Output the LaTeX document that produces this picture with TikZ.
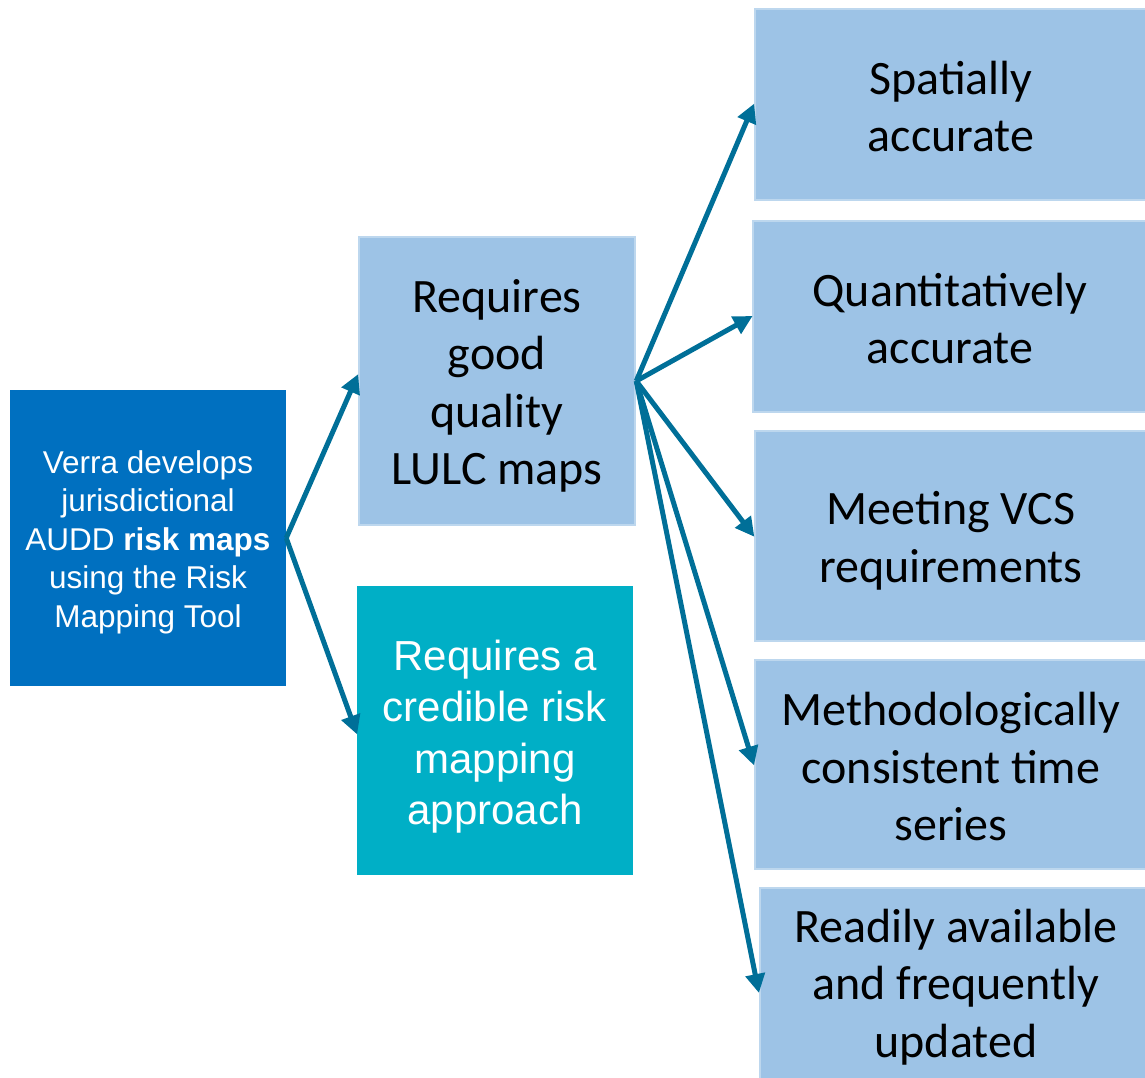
\documentclass[tikz,border=0pt]{standalone}
\usepackage{fontspec}
\setmainfont{Carlito}
\newfontfamily\arialfont{Liberation Sans}
\usetikzlibrary{arrows.meta}
\definecolor{darkblue}{HTML}{0070C0}
\definecolor{lightblue}{HTML}{9DC3E6}
\definecolor{lightborder}{HTML}{BDD7EE}
\definecolor{tealbox}{HTML}{00AFC6}
\definecolor{arrowcol}{HTML}{006F98}
\tikzset{
  lbox/.style={rectangle, fill=lightblue, draw=lightborder, line width=2.5pt, inner sep=0pt},
  ltext/.style={inner sep=0pt, align=center, text=black, font=\fontsize{48}{57.5}\selectfont},
  leftbox/.style={rectangle, fill=darkblue, inner sep=0pt},
  lefttext/.style={inner sep=0pt, align=center, text=white, font=\arialfont\fontsize{31.5}{38.5}\selectfont},
  tbox/.style={rectangle, fill=tealbox, inner sep=0pt},
  ttext/.style={inner sep=0pt, align=center, text=white, font=\arialfont\fontsize{42}{51.5}\selectfont},
  conn/.style={draw=arrowcol, line width=5pt, -{Triangle[length=19pt,width=19pt]}, shorten >=-1pt}
}
\begin{document}
\begin{tikzpicture}[x=1pt,y=-1pt]
\useasboundingbox (0,0) rectangle (1145,1077);
\clip (0,0) rectangle (1145,1077);
% left box
\node[leftbox, minimum width=276pt, minimum height=296pt] (L) at (148,538) {};
\node[lefttext] (Lt) at ([yshift=-4pt]L.center)
  {Verra develops\\jurisdictional\\AUDD \textbf{risk maps}\\using the Risk\\Mapping Tool};
% middle boxes
\node[lbox, minimum width=276pt, minimum height=288pt] (M) at (497,381) {};
\node[ltext] (Mt) at ([yshift=-5pt]M.center) {Requires\\good\\quality\\LULC maps};
\node[tbox, minimum width=276pt, minimum height=289pt] (T) at (495,730.5) {};
\node[ttext] (Tt) at ([yshift=-6pt]T.center) {Requires a\\credible risk\\mapping\\approach};
% right boxes
\node[lbox, minimum width=392pt, minimum height=191pt] (R1) at (951,104.5) {};
\node[ltext] (R1t) at ([yshift=-2pt]R1.center) {Spatially\\accurate};
\node[lbox, minimum width=394pt, minimum height=191pt] (R2) at (950,316.5) {};
\node[ltext] (R2t) at ([yshift=-2pt]R2.center) {Quantitatively\\accurate};
\node[lbox, minimum width=392pt, minimum height=210pt] (R3) at (951,536) {};
\node[ltext] (R3t) at ([yshift=-5pt]R3.center) {Meeting VCS\\requirements};
\node[lbox, minimum width=392pt, minimum height=209pt] (R4) at (951,764.5) {};
\node[ltext] (R4t) at ([yshift=-2pt]R4.center) {Methodologically\\consistent time\\series};
\node[lbox, minimum width=392pt, minimum height=196pt] (R5) at (956,986) {};
\node[ltext] (R5t) at ([yshift=-1pt]R5.center) {Readily available\\and frequently\\updated};
% connectors
\draw[conn] (L.east) -- ([yshift=6pt]M.west);
\draw[conn] (L.east) -- ([yshift=-3pt]T.west);
\draw[conn] (M.east) -- (R1.west);
\draw[conn] (M.east) -- (R2.west);
\draw[conn] (M.east) -- (R3.west);
\draw[conn] (M.east) -- (R4.west);
\draw[conn] (M.east) -- ([yshift=-6pt]R5.west);
\end{tikzpicture}
\end{document}
